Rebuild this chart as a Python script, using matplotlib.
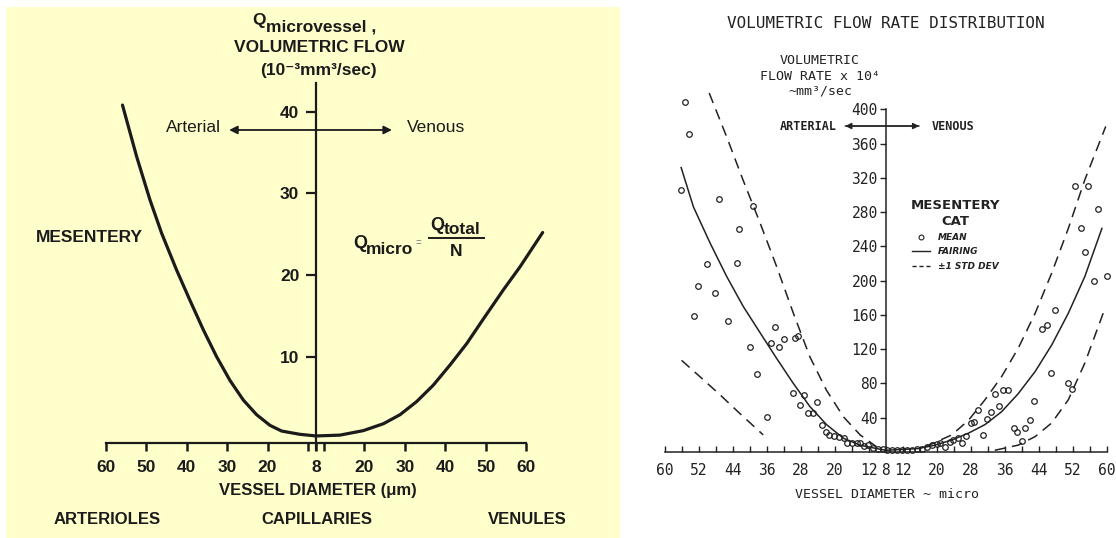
import numpy as np
import matplotlib
matplotlib.use('Agg')
import matplotlib.pyplot as plt
from matplotlib.lines import Line2D
from matplotlib.patches import Rectangle

plt.rcParams['font.family'] = ['Liberation Sans', 'DejaVu Sans']

# ---- left panel: model curve, Q_micro (1e-3 mm^3/sec) vs vessel diameter (um)
art_d = [55.9, 52.4, 49.1, 46.2, 42.5, 39.2, 35.9, 32.6, 29.3, 26.0, 22.7, 19.4, 16.5, 12.0, 8.0]
art_q = [40.8, 34.5, 29.2, 25.1, 20.6, 16.9, 13.3, 10.0, 7.1, 4.7, 2.9, 1.6, 0.9, 0.5, 0.3]
ven_d = [8.0, 13.9, 19.7, 24.7, 28.8, 32.9, 37.0, 41.2, 45.3, 49.4, 54.4, 58.5, 64.1]
ven_q = [0.3, 0.4, 0.95, 1.8, 2.9, 4.5, 6.5, 9.0, 11.6, 14.6, 18.2, 21.0, 25.2]
left_xtick_art = [60, 50, 40, 30, 20]
left_xtick_ven = [20, 30, 40, 50, 60]
left_yticks = [10, 20, 30, 40]

# ---- right panel: cat mesentery, flow rate x 1e4 mm^3/sec
art_mean_d = [55.3, 54.3, 56.2, 47.2, 39.2, 42.5, 43.1, 50.2, 52.2, 48.2, 53.2, 45.2, 40.0, 38.3,
              35.9, 35.1, 34.1, 33.1, 32.0, 29.4, 28.6, 30.0, 28.2, 27.3, 26.3, 25.2, 24.3, 23.1,
              22.1, 21.3, 20.2, 19.0, 18.0, 17.1, 16.1, 14.9, 14.1, 13.2, 12.2, 11.1, 10.0, 8.8]
art_mean_q = [408, 371, 306, 295, 287, 260, 221, 220, 194, 186, 159, 153, 122, 91,
              41, 127, 146, 122, 132, 133, 135, 69, 55, 67, 46, 46, 58, 32,
              23, 20, 19, 18, 16, 11, 11, 10, 11, 7, 8, 5, 4, 4]
ven_mean_d = [8.2, 9.3, 10.5, 11.7, 12.9, 14.0, 15.2, 16.4, 17.6, 18.8, 19.9, 20.7, 21.9, 23.1,
              23.8, 24.9, 25.8, 26.8, 28.0, 28.8, 29.7, 30.8, 31.7, 32.7, 33.6, 34.7, 35.6, 36.8,
              38.0, 38.9, 39.9, 40.7, 41.9, 42.9, 44.6, 45.8, 46.8, 47.8, 50.8, 51.8, 52.5, 55.6,
              53.8, 54.8, 57.8, 56.9, 59.9]
ven_mean_q = [2, 2, 2, 2, 2, 2, 3, 4, 6, 8, 9, 10, 6, 12,
              14, 16, 11, 19, 34, 35, 49, 20, 39, 47, 68, 54, 72, 72,
              28, 23, 13, 28, 37, 60, 144, 148, 92, 166, 80, 74, 310, 310,
              261, 234, 284, 200, 205]
art_fit_d = [56.2, 53.3, 49.4, 45.5, 41.6, 37.6, 33.7, 29.8, 25.9, 22.0, 18.0, 14.1, 10.2, 8.0]
art_fit_q = [332, 286, 244, 205, 170, 139, 109, 80, 53, 32, 16, 8, 4, 2]
ven_fit_d = [8.0, 15.6, 19.5, 23.5, 27.4, 31.3, 35.2, 39.1, 43.1, 47.0, 50.9, 54.8, 58.8]
ven_fit_q = [2, 4, 8, 14, 22, 32, 47, 68, 94, 125, 162, 205, 261]
art_hi_d = [49.6, 45.5, 41.6, 37.6, 33.7, 29.8, 25.9, 22.0, 18.0, 14.1, 10.2]
art_hi_q = [419, 368, 317, 267, 216, 162, 111, 72, 41, 20, 6]
art_lo_d = [56.1, 51.8, 47.1, 42.4, 36.9]
art_lo_q = [107, 88, 67, 45, 20]
ven_hi_d = [17.2, 23.5, 27.4, 31.3, 35.2, 39.1, 43.1, 47.0, 50.9, 54.8, 59.7]
ven_hi_q = [6, 20, 37, 61, 88, 121, 162, 209, 261, 318, 380]
ven_lo_d = [33.6, 39.1, 43.1, 47.0, 50.9, 54.8, 59.1]
ven_lo_q = [2, 8, 18, 34, 61, 104, 162]
right_tick_d = [60, 56, 52, 48, 44, 40, 36, 32, 28, 24, 20, 16, 12, 8,
                12, 16, 20, 24, 28, 32, 36, 40, 44, 48, 52, 56, 60]
right_tick_lab = ['60', '', '52', '', '44', '', '36', '', '28', '', '20', '', '12', '8',
                  '12', '', '20', '', '28', '', '36', '', '44', '', '52', '', '60']
right_yticks = [40, 80, 120, 160, 200, 240, 280, 320, 360, 400]


def art(d):
    return -(np.array(d, dtype=float) - 8)


def ven(d):
    return np.array(d, dtype=float) - 8


W, H = 1116, 538
fig = plt.figure(figsize=(W / 100, H / 100), dpi=100)


def fx(x):
    return x / W


def fy(y):
    return 1 - y / H


def txt(x, y, s, **kw):
    kw.setdefault('ha', 'center')
    kw.setdefault('va', 'center')
    return fig.text(fx(x), fy(y), s, **kw)


ink = '#1b1b1b'
ink2 = '#222222'
mono = 'DejaVu Sans Mono'

fig.add_artist(Rectangle((fx(6), 0), fx(620) - fx(6), fy(7), transform=fig.transFigure,
                         facecolor='#ffffcc', edgecolor='none', zorder=0))

# ================= left panel
sxL, syL, x0L, y0L = 4.04, 8.17, 316, 438.4
axL = fig.add_axes([fx(x0L - 60 * sxL), fy(y0L + 12 * syL), 120 * sxL / W, 58 * syL / H])
axL.set_xlim(-60, 60)
axL.set_ylim(-12, 46)
axL.patch.set_visible(False)
for s in ['top', 'right']:
    axL.spines[s].set_visible(False)
axL.spines['left'].set_position(('data', 0))
axL.spines['bottom'].set_position(('data', -0.55))
axL.spines['left'].set_bounds(-1.4, 43.5)
axL.spines['bottom'].set_bounds(-52, 52)
for s in ['left', 'bottom']:
    axL.spines[s].set_linewidth(1.6)
    axL.spines[s].set_color(ink)

axL.set_xticks(list(art(left_xtick_art)) + [0] + list(ven(left_xtick_ven)))
axL.set_xticklabels([str(d) for d in left_xtick_art] + ['8'] + [str(d) for d in left_xtick_ven])
axL.set_xticks([-2, 2], minor=True)
axL.set_yticks(left_yticks)
axL.tick_params(axis='x', which='both', direction='out', length=6, width=1.8, pad=6,
                labelsize=12.5, color=ink, labelcolor=ink)
axL.tick_params(axis='y', direction='out', length=7, width=1.6, pad=5,
                labelsize=12.5, color=ink, labelcolor=ink)
for lab in axL.get_xticklabels() + axL.get_yticklabels():
    lab.set_fontweight('bold')

axL.plot(art(art_d), art_q, color=ink, lw=2.3, solid_capstyle='round')
axL.plot(ven(ven_d), ven_q, color=ink, lw=2.3, solid_capstyle='round')

axL.annotate('', xy=(-21.5, 37.75), xytext=(18.8, 37.75),
             arrowprops=dict(arrowstyle='<|-|>', color=ink, lw=1.3, mutation_scale=12,
                             shrinkA=0, shrinkB=0))

txt(266, 21, 'Q', ha='right', fontsize=12.5, fontweight='bold', color=ink)
txt(266, 27, 'microvessel ,', ha='left', fontsize=12.5, fontweight='bold', color=ink)
txt(319, 47, 'VOLUMETRIC FLOW', fontsize=12.5, fontweight='bold', color=ink)
txt(318, 70, '(10\u207b\u00b3mm\u00b3/sec)', fontsize=12.5, fontweight='bold', color=ink)
txt(221, 128, 'Arterial', ha='right', fontsize=12.5, color=ink)
txt(407, 128, 'Venous', ha='left', fontsize=12.5, color=ink)
txt(36, 237, 'MESENTERY', ha='left', fontsize=12.5, fontweight='bold', color=ink)
txt(367, 243, 'Q', ha='right', fontsize=13, fontweight='bold', color=ink)
txt(366, 250, 'micro', ha='left', fontsize=12.5, fontweight='bold', color=ink)
txt(418, 243, '=', fontsize=7, color='#777777')
fig.add_artist(Line2D([fx(429), fx(484)], [fy(238.3), fy(238.3)], transform=fig.transFigure,
                      color=ink, lw=1.4))
txt(444, 225, 'Q', ha='right', fontsize=13, fontweight='bold', color=ink)
txt(444, 230, 'total', ha='left', fontsize=12.5, fontweight='bold', color=ink)
txt(456, 252, 'N', fontsize=12.5, fontweight='bold', color=ink)
txt(318, 490, 'VESSEL DIAMETER (\u03bcm)', fontsize=12, fontweight='bold', color=ink)
txt(107, 519, 'ARTERIOLES', fontsize=12, fontweight='bold', color=ink)
txt(317, 519, 'CAPILLARIES', fontsize=12, fontweight='bold', color=ink)
txt(527, 519, 'VENULES', fontsize=12, fontweight='bold', color=ink)

# ================= right panel
sxR, syR, x0R, y0R = 4.25, 0.8567, 886, 452
axR = fig.add_axes([fx(x0R - 54 * sxR), fy(y0R + 80 * syR), 108 * sxR / W, 520 * syR / H])
axR.set_xlim(-54, 54)
axR.set_ylim(-80, 440)
axR.patch.set_visible(False)
for s in ['top', 'right']:
    axR.spines[s].set_visible(False)
axR.spines['left'].set_position(('data', 0))
axR.spines['bottom'].set_position(('data', 0))
axR.spines['left'].set_bounds(0, 400)
axR.spines['bottom'].set_bounds(-52, 52)
for s in ['left', 'bottom']:
    axR.spines[s].set_linewidth(1.1)
    axR.spines[s].set_color(ink2)

axR.set_xticks(list(art(right_tick_d[:14])) + list(ven(right_tick_d[14:])))
axR.set_xticklabels(right_tick_lab)
axR.set_yticks(right_yticks)
axR.tick_params(axis='x', direction='in', length=4, width=1.0, pad=8, labelsize=10.5,
                color=ink2, labelcolor=ink2, labelfontfamily=mono)
axR.tick_params(axis='y', direction='out', length=4.5, width=1.0, pad=1.5, labelsize=10.5,
                color=ink2, labelcolor=ink2, labelfontfamily=mono)

dash = (0, (7, 4.5))
axR.plot(art(art_fit_d), art_fit_q, color=ink2, lw=1.1)
axR.plot(ven(ven_fit_d), ven_fit_q, color=ink2, lw=1.1)
for d, q in [(art_hi_d, art_hi_q), (art_lo_d, art_lo_q)]:
    axR.plot(art(d), q, color=ink2, lw=1.1, ls=dash)
for d, q in [(ven_hi_d, ven_hi_q), (ven_lo_d, ven_lo_q)]:
    axR.plot(ven(d), q, color=ink2, lw=1.1, ls=dash)
axR.plot(art(art_mean_d), art_mean_q, ls='none', marker='o', ms=4, mfc='none', mec=ink2, mew=0.9)
axR.plot(ven(ven_mean_d), ven_mean_q, ls='none', marker='o', ms=4, mfc='none', mec=ink2, mew=0.9)

axR.annotate('', xy=(-9.6, 380.5), xytext=(7.8, 380.5),
             arrowprops=dict(arrowstyle='-|>', color=ink2, lw=1.0, mutation_scale=9,
                             shrinkA=0, shrinkB=0))
axR.annotate('', xy=(7.8, 380.5), xytext=(-9.6, 380.5),
             arrowprops=dict(arrowstyle='-|>', color=ink2, lw=1.0, mutation_scale=9,
                             shrinkA=0, shrinkB=0))

handles = [Line2D([], [], ls='none', marker='o', ms=3.5, mfc='none', mec=ink2, mew=0.8),
           Line2D([], [], color=ink2, lw=1.0),
           Line2D([], [], color=ink2, lw=1.0, ls=(0, (3, 2)))]
leg = axR.legend(handles, ['MEAN', 'FAIRING', '\u00b11 STD DEV'], loc='upper left',
                 bbox_to_anchor=(fx(906), fy(194)), bbox_transform=fig.transFigure,
                 frameon=False, borderpad=0, handlelength=2.0, handletextpad=0.8,
                 labelspacing=0.6, numpoints=1, alignment='center',
                 prop=dict(family='DejaVu Sans', style='italic', weight='bold', size=6.5),
                 title='MESENTERY\nCAT',
                 title_fontproperties=dict(family='DejaVu Sans', weight='bold', size=9.5))
for t in leg.get_texts():
    t.set_color(ink2)
leg.get_title().set_color(ink2)
leg.get_title().set_linespacing(1.3)
leg.get_title().set_multialignment('center')

txt(886, 23, 'VOLUMETRIC FLOW RATE DISTRIBUTION', fontsize=11.5, family=mono, color=ink2)
txt(820, 60, 'VOLUMETRIC', fontsize=9.5, family=mono, color=ink2)
txt(820, 77, 'FLOW RATE x 10\u2074', fontsize=9.5, family=mono, color=ink2)
txt(820, 91, '~mm\u00b3/sec', fontsize=9.5, family=mono, color=ink2)
txt(837, 126, 'ARTERIAL', ha='right', fontsize=8.5, family=mono, fontweight='bold', color=ink2)
txt(932, 126, 'VENOUS', ha='left', fontsize=8.5, family=mono, fontweight='bold', color=ink2)
txt(887, 494, 'VESSEL DIAMETER ~ micro', fontsize=9.5, family=mono, color=ink2)

fig.savefig('out.png', dpi=100)
